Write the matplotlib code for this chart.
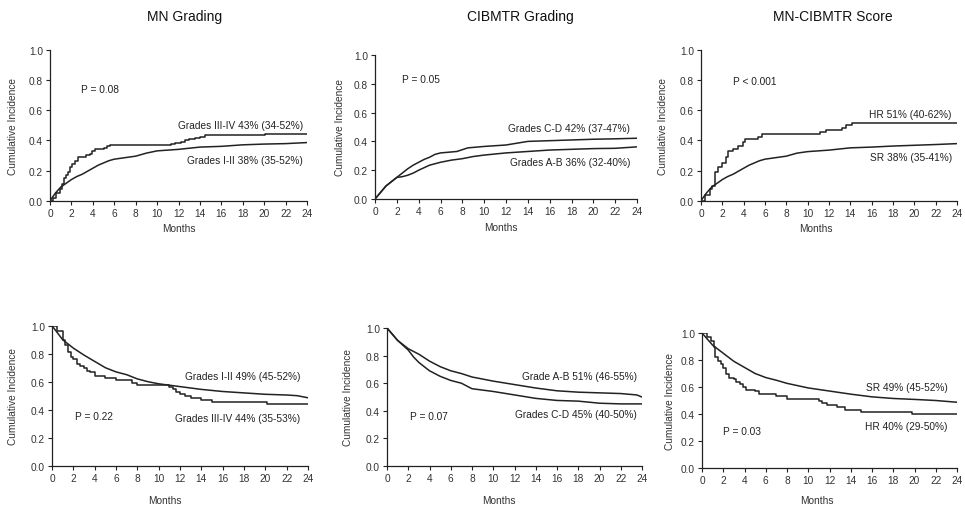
import matplotlib.pyplot as plt

plt.rcParams["font.family"] = ["Liberation Sans", "DejaVu Sans"]

# -----------------------
# DATA
# -----------------------
# MN grading - cumulative incidence
mn_low_t = [0, 0.5, 1, 1.5, 2, 2.5, 3, 3.5, 4, 4.5, 5, 5.5, 6, 7, 8, 9, 10, 12, 14, 16, 18, 20, 22, 24]
mn_low_y = [0, 0.05, 0.09, 0.115, 0.14, 0.16, 0.175, 0.195, 0.215, 0.235, 0.25, 0.265, 0.275, 0.285,
            0.295, 0.315, 0.33, 0.34, 0.355, 0.36, 0.37, 0.375, 0.378, 0.385]
mn_high_t = [0, 0.3, 0.6, 0.9, 1.1, 1.3, 1.5, 1.7, 1.9, 2.1, 2.3, 2.6, 3.0, 3.4, 3.7, 3.9, 4.2, 5.0, 5.3,
             5.6, 11.3, 11.7, 12.2, 12.6, 13.0, 13.5, 14.0, 14.5, 20.1, 24]
mn_high_y = [0, 0.02, 0.05, 0.08, 0.11, 0.15, 0.17, 0.19, 0.22, 0.24, 0.26, 0.29, 0.29, 0.30, 0.31, 0.33,
             0.345, 0.35, 0.36, 0.37, 0.375, 0.385, 0.39, 0.40, 0.41, 0.415, 0.425, 0.435, 0.44, 0.44]

# CIBMTR grading - cumulative incidence
cib_ab_t = [0, 0.5, 1, 1.5, 2, 2.5, 3, 3.5, 4, 5, 6, 7, 8, 9, 10, 12, 14, 16, 18, 20, 22, 24]
cib_ab_y = [0, 0.045, 0.09, 0.12, 0.15, 0.155, 0.165, 0.18, 0.20, 0.235, 0.255, 0.27, 0.28, 0.295, 0.305,
            0.32, 0.33, 0.34, 0.345, 0.35, 0.352, 0.362]
cib_cd_t = [0, 0.5, 1, 1.5, 2, 2.5, 3, 3.5, 4, 4.5, 5, 5.5, 6, 7.5, 8.5, 10, 12, 14, 16, 18, 20, 22, 24]
cib_cd_y = [0, 0.045, 0.09, 0.12, 0.15, 0.18, 0.21, 0.235, 0.255, 0.275, 0.29, 0.31, 0.32, 0.33, 0.355,
            0.365, 0.375, 0.40, 0.405, 0.41, 0.415, 0.418, 0.422]

# MN-CIBMTR score - cumulative incidence
sc_sr_t = [0, 0.5, 1, 1.5, 2, 2.5, 3, 3.5, 4, 4.5, 5, 5.5, 6, 7, 8, 9, 10, 12, 14, 16, 18, 20, 22, 24]
sc_sr_y = [0, 0.05, 0.09, 0.115, 0.14, 0.16, 0.175, 0.195, 0.215, 0.235, 0.25, 0.265, 0.275, 0.285,
           0.295, 0.315, 0.325, 0.335, 0.35, 0.355, 0.362, 0.367, 0.372, 0.378]
sc_hr_t = [0, 0.4, 0.8, 1.0, 1.3, 1.6, 2.0, 2.3, 2.5, 3.0, 3.5, 3.9, 4.1, 5.0, 5.3, 5.7, 11.2, 11.7,
           12.3, 13.2, 13.6, 14.2, 24]
sc_hr_y = [0, 0.04, 0.08, 0.10, 0.19, 0.22, 0.25, 0.29, 0.33, 0.34, 0.36, 0.39, 0.41, 0.41, 0.425,
           0.44, 0.455, 0.465, 0.47, 0.48, 0.50, 0.512, 0.512]

# MN grading - survival
mn2_low_t = [0, 0.5, 1, 1.5, 2, 3, 4, 5, 6, 7, 8, 9, 10, 12, 14, 16, 18, 20, 22, 23, 24]
mn2_low_y = [1.0, 0.95, 0.90, 0.87, 0.84, 0.79, 0.745, 0.70, 0.67, 0.65, 0.62, 0.60, 0.585, 0.565,
             0.545, 0.53, 0.52, 0.51, 0.505, 0.50, 0.485]
mn2_high_t = [0, 0.5, 1.0, 1.2, 1.5, 1.8, 2.0, 2.3, 2.6, 3.0, 3.3, 3.6, 4.0, 5.0, 6.0, 7.5, 8.0, 10.0,
              11.0, 11.3, 11.6, 12.0, 12.5, 13.0, 14.0, 15.0, 20.2, 24]
mn2_high_y = [1.0, 0.96, 0.90, 0.86, 0.81, 0.78, 0.76, 0.73, 0.71, 0.70, 0.68, 0.67, 0.64, 0.625, 0.61,
              0.59, 0.575, 0.575, 0.56, 0.55, 0.53, 0.51, 0.495, 0.485, 0.47, 0.457, 0.443, 0.443]

# CIBMTR grading - survival
cib2_ab_t = [0, 0.5, 1, 1.5, 2, 3, 4, 5, 6, 7, 8, 10, 12, 14, 16, 18, 20, 22, 23.5, 24]
cib2_ab_y = [1.0, 0.955, 0.91, 0.88, 0.85, 0.81, 0.76, 0.72, 0.69, 0.67, 0.645, 0.615, 0.59, 0.565,
             0.545, 0.535, 0.53, 0.525, 0.515, 0.50]
cib2_cd_t = [0, 0.5, 1, 1.5, 2, 2.5, 3, 4, 5, 6, 7, 8, 10, 12, 14, 16, 18, 20, 22, 24]
cib2_cd_y = [1.0, 0.955, 0.91, 0.875, 0.84, 0.79, 0.75, 0.69, 0.65, 0.62, 0.60, 0.56, 0.54, 0.515,
             0.49, 0.475, 0.47, 0.455, 0.45, 0.45]

# MN-CIBMTR score - survival
sc2_sr_t = [0, 0.5, 1, 1.5, 2, 3, 4, 5, 6, 7, 8, 10, 12, 14, 16, 18, 20, 22, 24]
sc2_sr_y = [1.0, 0.955, 0.91, 0.88, 0.85, 0.79, 0.745, 0.70, 0.67, 0.65, 0.627, 0.593, 0.57, 0.547,
            0.527, 0.515, 0.508, 0.50, 0.487]
sc2_hr_t = [0, 0.5, 0.8, 1.1, 1.2, 1.5, 1.8, 2.0, 2.3, 2.5, 3.0, 3.2, 3.6, 3.9, 4.1, 5.0, 5.4, 7.0,
            8.0, 11.0, 11.3, 11.8, 12.7, 13.5, 15.0, 19.8, 24]
sc2_hr_y = [1.0, 0.97, 0.94, 0.90, 0.82, 0.79, 0.77, 0.74, 0.70, 0.665, 0.66, 0.64, 0.62, 0.60, 0.58,
            0.57, 0.55, 0.53, 0.512, 0.50, 0.48, 0.465, 0.455, 0.43, 0.414, 0.397, 0.397]

titles = ["MN Grading", "CIBMTR Grading", "MN-CIBMTR Score"]
p_texts = ["P = 0.08", "P = 0.05", "P < 0.001", "P = 0.22", "P = 0.07", "P = 0.03"]
curve_labels = [
    ["Grades III-IV 43% (34-52%)", "Grades I-II 38% (35-52%)"],
    ["Grades C-D 42% (37-47%)", "Grades A-B 36% (32-40%)"],
    ["HR 51% (40-62%)", "SR 38% (35-41%)"],
    ["Grades I-II 49% (45-52%)", "Grades III-IV 44% (35-53%)"],
    ["Grade A-B 51% (46-55%)", "Grades C-D 45% (40-50%)"],
    ["SR 49% (45-52%)", "HR 40% (29-50%)"],
]

# smooth curve, second curve for each panel
curves = [
    ((mn_low_t, mn_low_y), (mn_high_t, mn_high_y)),
    ((cib_ab_t, cib_ab_y), (cib_cd_t, cib_cd_y)),
    ((sc_sr_t, sc_sr_y), (sc_hr_t, sc_hr_y)),
    ((mn2_low_t, mn2_low_y), (mn2_high_t, mn2_high_y)),
    ((cib2_ab_t, cib2_ab_y), (cib2_cd_t, cib2_cd_y)),
    ((sc2_sr_t, sc2_sr_y), (sc2_hr_t, sc2_hr_y)),
]
# the small groups are drawn as steps
stepped = [True, False, True, True, False, True]

# -----------------------
# LAYOUT (pixels, measured on the reference)
# -----------------------
W, H = 965, 510
boxes = [(50, 201.7, 257, 151), (375, 200, 262, 144), (701, 201.7, 256, 151),
         (52, 466.7, 256, 140), (387, 467, 255, 138), (702, 469, 255, 135)]
p_pos = [(2.87, 0.74), (2.47, 0.83), (3.0, 0.79), (2.16, 0.353), (2.16, 0.362), (1.98, 0.276)]
lab_pos = [((23.6, 0.503), (23.6, 0.27)), ((23.36, 0.49), (23.36, 0.255)), ((23.5, 0.574), (23.5, 0.287)),
           ((23.3, 0.643), (23.3, 0.339)), ((23.5, 0.654), (23.5, 0.38)), ((23.1, 0.598), (23.1, 0.313))]
ylab_off = [32, 30, 33, 34, 34, 27]
xlab = [(0.5, 22), (0.48, 23), (0.45, 22), (0.44, 29), (0.44, 29), (0.45, 27)]
title_x = [185, 520, 833]

fig = plt.figure(figsize=(W / 100, H / 100), dpi=100)
ink = "#222222"

for i in range(6):
    x0, yb, w, h = boxes[i]
    ax = fig.add_axes([x0 / W, 1 - yb / H, w / W, h / H])
    (t1, y1), (t2, y2) = curves[i]
    ax.plot(t1, y1, color=ink, lw=1.1)
    if stepped[i]:
        ax.step(t2, y2, where="post", color=ink, lw=1.1)
    else:
        ax.plot(t2, y2, color=ink, lw=1.1)

    ax.set_xlim(0, 24)
    ax.set_ylim(0, 1.0)
    ax.set_xticks(range(0, 25, 2))
    ax.set_yticks([0, 0.2, 0.4, 0.6, 0.8, 1.0])
    ax.set_yticklabels(["0.0", "0.2", "0.4", "0.6", "0.8", "1.0"])
    ax.spines["top"].set_visible(False)
    ax.spines["right"].set_visible(False)
    for s in ["left", "bottom"]:
        ax.spines[s].set_linewidth(0.9)
        ax.spines[s].set_color(ink)
    ax.tick_params(direction="out", length=3, width=0.8, color=ink, labelsize=7.3,
                   labelcolor="#333333", pad=2)

    ax.set_ylabel("Cumulative Incidence", fontsize=7.3, color="#333333")
    ax.yaxis.set_label_coords(-ylab_off[i] / w, 0.5)
    ax.set_xlabel("Months", fontsize=7.3, color="#333333")
    ax.xaxis.set_label_coords(xlab[i][0], -xlab[i][1] / h)

    ax.text(p_pos[i][0], p_pos[i][1], p_texts[i], fontsize=7.3, color=ink, va="center")
    for j in range(2):
        ax.text(lab_pos[i][j][0], lab_pos[i][j][1], curve_labels[i][j], fontsize=7.3,
                color=ink, ha="right", va="center")

for k in range(3):
    fig.text(title_x[k] / W, 1 - 17 / H, titles[k], fontsize=10, ha="center", va="center", color="#111111")

plt.savefig("out.png", dpi=100)
